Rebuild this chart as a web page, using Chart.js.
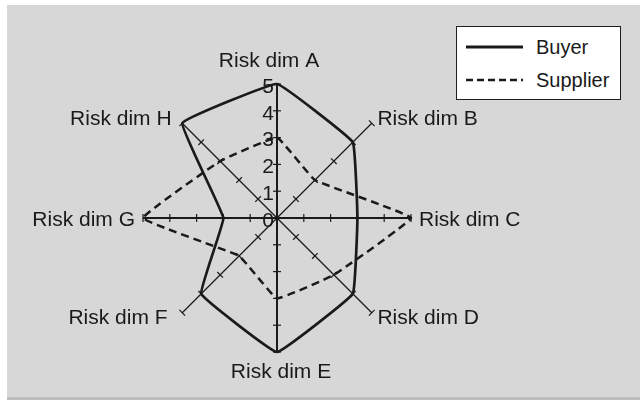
<!DOCTYPE html>
<html>
<head>
<meta charset="utf-8">
<script src="https://cdn.jsdelivr.net/npm/chart.js@4/dist/chart.umd.min.js"></script>
<style>
  html, body { margin: 0; padding: 0; background: #ffffff; }
  body { width: 640px; height: 403px; position: relative; overflow: hidden;
         font-family: "Liberation Sans", Arial, sans-serif; }
  #panel { position: absolute; left: 7px; top: 5px; width: 633px; height: 392px;
           background: #d7d7d7; border-bottom: 3px solid #bcbcbc; }
  #wrap { position: absolute; left: 0; top: 0; width: 640px; height: 403px; }
  #legend { position: absolute; left: 456px; top: 26px; width: 163px; height: 72px;
            background: #ffffff; border: 1.5px solid #1e1e1e; }
  .row { position: absolute; left: 8px; height: 24px; font-size: 20px; color: #1a1a1a; }
  .row svg { position: absolute; left: 0; top: 0; }
  .row span { position: absolute; left: 71px; top: 0; line-height: 24px; white-space: nowrap; }
</style>
</head>
<body>
<div id="panel"></div>
<div id="wrap"><canvas id="radarChart"></canvas></div>
<div id="legend">
  <div class="row" style="top: 8px;">
    <svg width="60" height="24"><line x1="1" y1="12" x2="58" y2="12" stroke="#1a1a1a" stroke-width="3"/></svg>
    <span>Buyer</span>
  </div>
  <div class="row" style="top: 41px;">
    <svg width="60" height="24"><line x1="1" y1="12" x2="58" y2="12" stroke="#1a1a1a" stroke-width="2.5" stroke-dasharray="7 4"/></svg>
    <span>Supplier</span>
  </div>
</div>

<script>
// categories and values
const categories = ['Risk dim A', 'Risk dim B', 'Risk dim C', 'Risk dim D',
                    'Risk dim E', 'Risk dim F', 'Risk dim G', 'Risk dim H'];
const buyerValues = [5, 4, 3, 4, 5, 4, 2, 5];
const supplierValues = [3, 2, 5, 3, 3, 2, 5, 3];
const tickValues = [0, 1, 2, 3, 4, 5];

const labelFont = '21px "Liberation Sans", Arial, sans-serif';
const ink = '#1a1a1a';

// axis tick marks, tick numbers and category labels
const axisDecor = {
  id: 'axisDecor',
  afterDraw(chart) {
    const scale = chart.scales.r;
    const ctx = chart.ctx;
    const n = categories.length;
    ctx.save();
    ctx.strokeStyle = ink;
    ctx.fillStyle = ink;
    ctx.lineWidth = 1.2;

    // small perpendicular ticks on every axis
    for (let i = 0; i < n; i++) {
      const angle = scale.getIndexAngle(i) - Math.PI / 2;
      const px = -Math.sin(angle), py = Math.cos(angle);
      tickValues.forEach(v => {
        if (v === 0) return;
        const p = scale.getPointPositionForValue(i, v);
        ctx.beginPath();
        ctx.moveTo(p.x - px * 4, p.y - py * 4);
        ctx.lineTo(p.x + px * 4, p.y + py * 4);
        ctx.stroke();
      });
    }

    // numbers along the first axis
    ctx.font = labelFont;
    ctx.textAlign = 'right';
    ctx.textBaseline = 'middle';
    tickValues.forEach(v => {
      const p = scale.getPointPositionForValue(0, v);
      ctx.fillText(String(v), p.x - 3, p.y + 3);
    });

    // category labels
    categories.forEach((label, i) => {
      const p = scale.getPointPosition(i, scale.drawingArea + 8);
      if (i === 0) {
        ctx.textAlign = 'center';
        ctx.textBaseline = 'alphabetic';
        ctx.fillText(label, p.x - 8, p.y - 9);
      } else if (i === 4) {
        ctx.textAlign = 'center';
        ctx.textBaseline = 'top';
        ctx.fillText(label, p.x + 4, p.y + 2);
      } else {
        ctx.textAlign = i < 4 ? 'left' : 'right';
        ctx.textBaseline = 'middle';
        const dy = (i === 3 || i === 5) ? 0 : 2;
        let dx = 0;
        if (i === 5) dx = -9;
        if (i === 7) dx = -5;
        ctx.fillText(label, p.x + dx, p.y + dy);
      }
    });
    ctx.restore();
  }
};

new Chart(document.getElementById('radarChart'), {
  type: 'radar',
  data: {
    labels: categories,
    datasets: [{
      label: 'Buyer',
      data: buyerValues,
      borderColor: ink,
      borderWidth: 2.7,
      backgroundColor: 'transparent',
      fill: false,
      pointRadius: 0,
      tension: 0.07
    }, {
      label: 'Supplier',
      data: supplierValues,
      borderColor: ink,
      borderWidth: 2.5,
      borderDash: [8, 5],
      backgroundColor: 'transparent',
      fill: false,
      pointRadius: 0,
      tension: 0.08
    }]
  },
  options: {
    responsive: true,
    maintainAspectRatio: false,
    animation: false,
    layout: {
      padding: { left: 143, right: 229, top: 84, bottom: 51 }
    },
    scales: {
      r: {
        min: 0,
        max: 5,
        ticks: { display: false, stepSize: 1 },
        grid: { display: false },
        pointLabels: { display: false },
        angleLines: {
          display: true,
          color: ink,
          lineWidth: ctx => (ctx.index % 2 === 0 ? 2 : 1.2)
        }
      }
    },
    plugins: {
      legend: { display: false },
      tooltip: { enabled: false }
    }
  },
  plugins: [axisDecor]
});
</script>
</body>
</html>
